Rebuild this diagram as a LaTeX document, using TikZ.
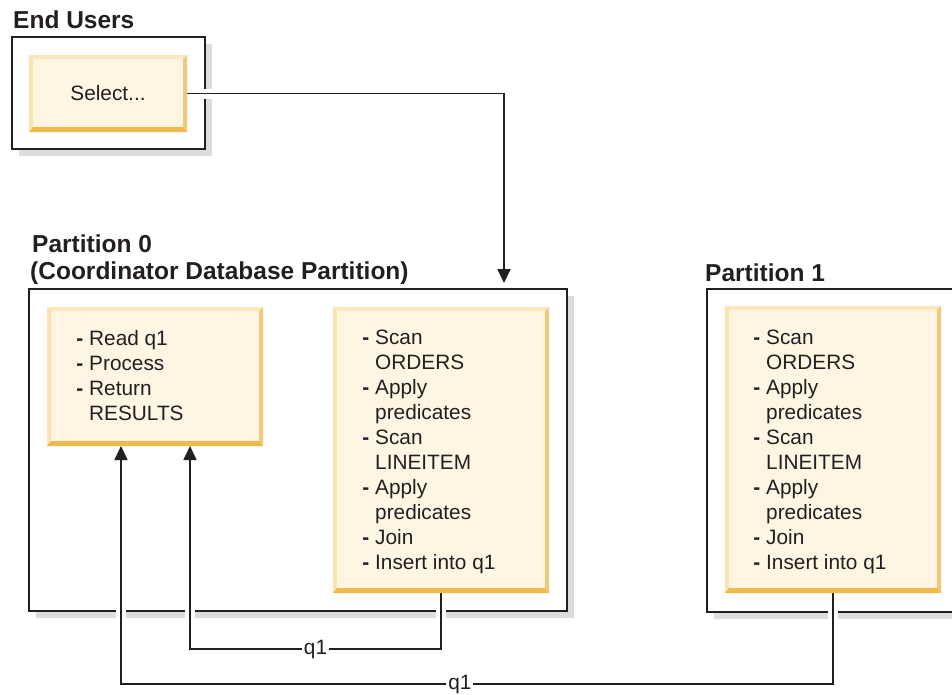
\documentclass[tikz,border=0pt]{standalone}
\usepackage{fontspec}
\setmainfont{Liberation Sans}
\usetikzlibrary{arrows.meta,shadows,calc}
\definecolor{ink}{HTML}{231F20}
\definecolor{shadowgray}{HTML}{DCDCDD}
\definecolor{boxfill}{HTML}{FEF6E2}
\definecolor{bevtop}{HTML}{FDE7BC}
\definecolor{bevleft}{HTML}{FCE3B1}
\definecolor{bevright}{HTML}{F2C87C}
\definecolor{bevbottom}{HTML}{EFB94B}
\pgfdeclarelayer{bg}\pgfdeclarelayer{mid}\pgfsetlayers{bg,mid,main}
\newcommand\bevelize[1]{%
 \fill[bevtop] (#1.north west) -- (#1.north east) -- ([shift={(-4pt,-4pt)}]#1.north east) -- ([shift={(4pt,-4pt)}]#1.north west) -- cycle;
 \fill[bevleft] (#1.north west) -- ([shift={(4pt,-4pt)}]#1.north west) -- ([shift={(4pt,5pt)}]#1.south west) -- (#1.south west) -- cycle;
 \fill[bevright] (#1.north east) -- ([shift={(-4pt,-4pt)}]#1.north east) -- ([shift={(-4pt,5pt)}]#1.south east) -- (#1.south east) -- cycle;
 \fill[bevbottom] (#1.south west) -- ([shift={(4pt,5pt)}]#1.south west) -- ([shift={(-4pt,5pt)}]#1.south east) -- (#1.south east) -- cycle;}
\newcommand\dashitem{\llap{\textbf{-}\hspace{6pt}}}
\begin{document}
\begin{tikzpicture}[x=1pt,y=-1pt,
  outerbox/.style={draw=ink,line width=1.9pt,fill=white,inner sep=0pt,outer sep=0pt,anchor=north west,
    drop shadow={shadow xshift=7pt,shadow yshift=-7pt,fill=shadowgray,opacity=1}},
  innerbox/.style={fill=boxfill,inner sep=0pt,outer sep=0pt,anchor=north west,text=ink,
    font=\fontsize{20.8}{25}\selectfont},
  listtext/.style={anchor=base west,inner sep=0pt,text=ink,font=\fontsize{20.8}{25}\selectfont},
  titletext/.style={anchor=base west,inner sep=0pt,text=ink,font=\bfseries\fontsize{24.5}{27}\selectfont},
  qlabel/.style={fill=white,inner sep=2pt,text=ink,font=\fontsize{20.8}{25}\selectfont},
  conn/.style={draw=ink,line width=1.7pt},
  halo/.style={preaction={draw=white,line width=10pt,arrows=-}},
  arr/.style={-{Triangle[length=14pt,width=13pt]}}
]
\useasboundingbox (0,0) rectangle (952,694);

% titles
\node[titletext] (teu) at (13,28) {End Users};
\node[titletext] (tp0a) at (32,252) {Partition 0};
\node[titletext] (tp0b) at (30,279) {(Coordinator Database Partition)};
\node[titletext] (tp1) at (705,281) {Partition 1};

% outer boxes
\begin{pgfonlayer}{bg}
\node[outerbox,minimum width=193pt,minimum height=112pt] (eu) at (12,37) {};
\node[outerbox,minimum width=538pt,minimum height=322pt] (p0) at (29,289) {};
\node[fill=white,inner sep=0pt,outer sep=0pt,anchor=north west,minimum width=245pt,minimum height=323pt] (p1) at (707,289) {};
\fill[shadowgray] ([shift={(7pt,0pt)}]p1.south west) rectangle ([shift={(0pt,-7pt)}]p1.south east);
\draw[draw=ink,line width=1.9pt] (p1.north east) -- (p1.north west) -- (p1.south west) -- (p1.south east);
\end{pgfonlayer}

% inner boxes
\node[innerbox,minimum width=158pt,minimum height=77pt] (sel) at (29,55) {Select...};
\node[innerbox,minimum width=216pt,minimum height=139pt] (lb) at (47,307) {};
\node[innerbox,minimum width=216pt,minimum height=286pt] (rb) at (333,307) {};
\node[innerbox,minimum width=216pt,minimum height=287pt] (r1) at (725,306) {};
\bevelize{sel}\bevelize{lb}\bevelize{rb}\bevelize{r1}

\node[listtext] (lbt) at (89,345) {\begin{tabular}[t]{@{}l@{}}\dashitem Read q1\\ \dashitem Process\\ \dashitem Return\\ RESULTS\end{tabular}};
\node[listtext] (rbt) at (375,344) {\begin{tabular}[t]{@{}l@{}}\dashitem Scan\\ ORDERS\\ \dashitem Apply\\ predicates\\ \dashitem Scan\\ LINEITEM\\ \dashitem Apply\\ predicates\\ \dashitem Join\\ \dashitem Insert into q1\end{tabular}};
\node[listtext] (r1t) at (766,344) {\begin{tabular}[t]{@{}l@{}}\dashitem Scan\\ ORDERS\\ \dashitem Apply\\ predicates\\ \dashitem Scan\\ LINEITEM\\ \dashitem Apply\\ predicates\\ \dashitem Join\\ \dashitem Insert into q1\end{tabular}};

% connectors
\coordinate (row1) at (0,649);
\coordinate (row2) at (0,684);
\begin{pgfonlayer}{mid}
\draw[conn,halo,arr] (sel.east) -| ([xshift=475pt,yshift=6pt]p0.north west);
\draw[conn,halo,arr] (rb.south) -- (rb.south |- row1) -| node[qlabel,pos=0.25] (q1a) {q1} ([xshift=143pt]lb.south west);
\draw[conn,halo,arr] (r1.south) -- (r1.south |- row2) -| node[qlabel,pos=0.262] (q1b) {q1} ([xshift=74pt]lb.south west);
\end{pgfonlayer}
\end{tikzpicture}
\end{document}
